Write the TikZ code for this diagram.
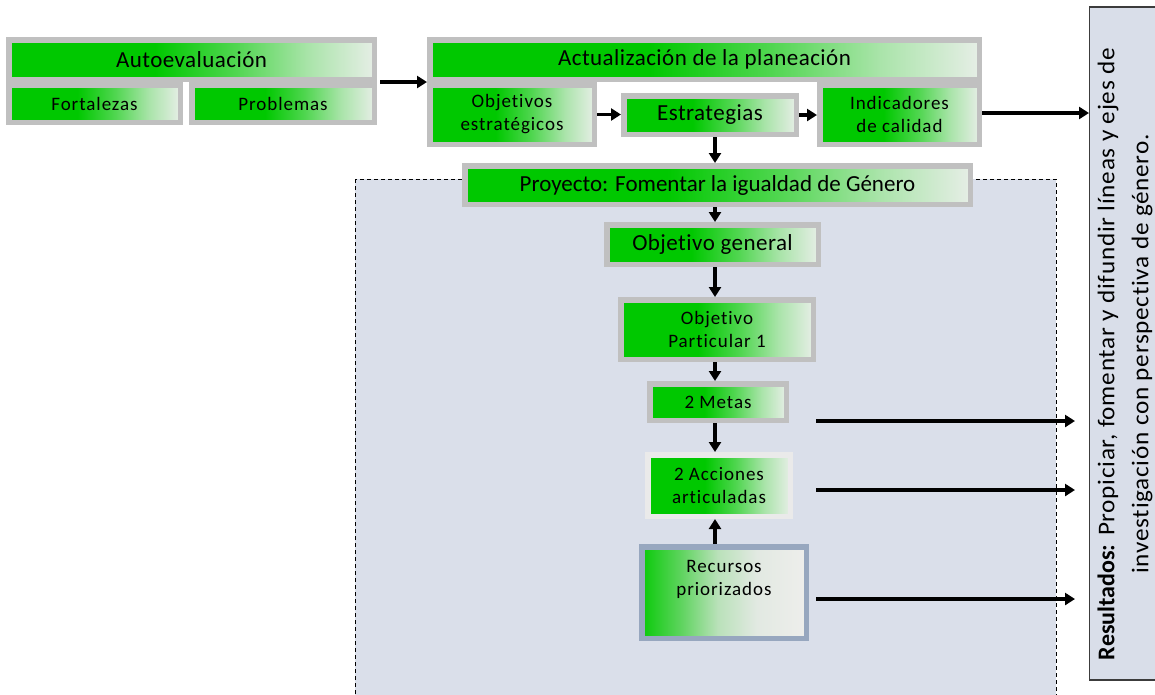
\documentclass[tikz,border=0pt]{standalone}
\usepackage{fontspec}
\setmainfont{Carlito}
\newfontfamily\bigbox[LetterSpace=2,Ligatures=NoCommon]{Carlito}
\newfontfamily\projfont[Ligatures=NoCommon]{Carlito}
\newfontfamily\smallbox[LetterSpace=5,Ligatures=NoCommon]{Carlito}
\newfontfamily\resfont[FakeStretch=1.05,LetterSpace=3,Ligatures=NoCommon]{Carlito}
\newfontfamily\resbold[Ligatures=NoCommon]{Carlito}
\usetikzlibrary{arrows.meta,calc}

\definecolor{gG}{RGB}{0,200,0}
\definecolor{gM}{RGB}{80,214,80}
\definecolor{gP}{RGB}{170,228,170}
\definecolor{gL}{RGB}{230,238,230}
\definecolor{rA}{RGB}{10,202,10}
\definecolor{rB}{RGB}{95,212,95}
\definecolor{rC}{RGB}{185,225,185}
\definecolor{rD}{RGB}{226,233,226}
\definecolor{rE}{RGB}{238,238,236}
\definecolor{boxgray}{RGB}{192,192,192}
\definecolor{lightframe}{RGB}{234,234,234}
\definecolor{blueframe}{RGB}{151,167,191}
\definecolor{zonefill}{RGB}{218,223,234}
\definecolor{resfill}{RGB}{217,222,233}
\definecolor{resline}{RGB}{60,60,60}

% green fading to pale grey, left to right (path box maps to 25bp..75bp)
\pgfdeclarehorizontalshading{gfade}{100bp}{color(0bp)=(gG); color(45bp)=(gG); color(56bp)=(gM); color(66bp)=(gP); color(75bp)=(gL); color(100bp)=(gL)}
\pgfdeclarehorizontalshading{rfade}{100bp}{color(0bp)=(rA); color(25bp)=(rA); color(37bp)=(rB); color(48bp)=(rC); color(60bp)=(rD); color(75bp)=(rE); color(100bp)=(rE)}

\tikzset{
  box/.style={draw=boxgray, line width=5.5pt, shading=gfade, inner sep=0pt,
    align=center, text=black},
  bigtxt/.style={font=\bigbox\fontsize{23}{27}\selectfont},
  smalltxt/.style={font=\smallbox\fontsize{19}{23}\selectfont},
  arr/.style={line width=3.5pt, -{Triangle[length=10pt,width=12pt]}},
}

\begin{document}
\begin{tikzpicture}[x=1pt,y=-1pt]
\useasboundingbox (0,0) rectangle (1155,694);
\clip (0,0) rectangle (1155,694);

% dashed project area
\draw[fill=zonefill, dashed, dash pattern=on 4pt off 3pt, line width=1pt]
  (355,179) rectangle (1056,704);

% results panel
\node[draw=resline, fill=resfill, line width=1.2pt, minimum width=80pt,
  minimum height=673pt, inner sep=0pt] (res) at (1129.6,343.5) {};
\node[rotate=90, align=center, inner sep=0pt,
  font=\resfont\fontsize{24}{34}\selectfont] (restext) at (1125,354)
  {{\resbold\bfseries Resultados:} Propiciar, fomentar y difundir líneas y ejes de\\
   investigación con perspectiva de género.};

% self-assessment group
\node[box, bigtxt, minimum width=365.5pt, minimum height=39.5pt] (auto) at (191.5,59.5) {Autoevaluación};
\node[box, smalltxt, minimum width=171.5pt, minimum height=37.5pt] (fort) at (94.5,103.5) {Fortalezas};
\node[box, smalltxt, minimum width=182.5pt, minimum height=37.5pt] (prob) at (283,103.5) {Problemas};

% planning update group
\node[box, bigtxt, minimum width=549.5pt, minimum height=39.5pt] (act) at (704.5,59.5) {Actualización de la planeación};
\node[box, smalltxt, minimum width=164.5pt, minimum height=59.5pt] (obj) at (512,114.5) {Objetivos\\estratégicos};
\node[box, bigtxt, minimum width=172.5pt, minimum height=38.5pt] (est) at (710,115) {Estrategias};
\node[box, smalltxt, minimum width=159.5pt, minimum height=59.5pt] (ind) at (899.5,114.5) {Indicadores\\de calidad};

% project chain
\node[box, font=\projfont\fontsize{23}{27}\selectfont, minimum width=505.5pt, minimum height=38.5pt] (proj) at (717.5,185) {Proyecto: Fomentar la igualdad de Género};
\node[box, bigtxt, minimum width=211.5pt, minimum height=39.5pt] (og) at (712.5,244.5) {Objetivo general};
\node[box, smalltxt, minimum width=192.5pt, minimum height=59.5pt] (op) at (717,329.5) {Objetivo\\Particular 1};
\node[box, smalltxt, minimum width=136.5pt, minimum height=36.5pt] (metas) at (718,402) {2 Metas};
\node[box, smalltxt, draw=lightframe, minimum width=142.5pt, minimum height=61.5pt] (acc) at (719,485.5) {2 Acciones\\articuladas};
\node[box, draw=blueframe, shading=rfade, minimum width=164.5pt, minimum height=91.5pt] (rec) at (724,592.5) {};
\node[smalltxt, align=center, inner sep=0pt] (rectext) at ([yshift=13pt]rec.center) {Recursos\\priorizados};

% connectors
\coordinate (col) at (715,0);
\coordinate (tip) at (1075,0);
\draw[arr, shorten <=3pt] (auto.south east) -- (act.south west);
\draw[arr] (obj.east) -- (obj.east -| est.west);
\draw[arr] (est.east) -- (est.east -| ind.west);
\draw[arr] (ind.east |- 0,113) -- (res.west |- 0,113);
\draw[arr] (col |- est.south) -- (col |- proj.north);
\draw[arr] (col |- proj.south) -- (col |- og.north);
\draw[arr] (col |- og.south) -- (col |- op.north);
\draw[arr] (col |- op.south) -- (col |- metas.north);
\draw[arr] (col |- metas.south) -- (col |- acc.north);
\draw[arr] (col |- rec.north) -- (col |- acc.south);

\coordinate (mOut) at (816,421);
\coordinate (aOut) at (816,490);
\coordinate (rOut) at (816,599);
\draw[arr] (mOut) -- (mOut -| tip);
\draw[arr] (aOut) -- (aOut -| tip);
\draw[arr] (rOut) -- (rOut -| tip);
\end{tikzpicture}
\end{document}
